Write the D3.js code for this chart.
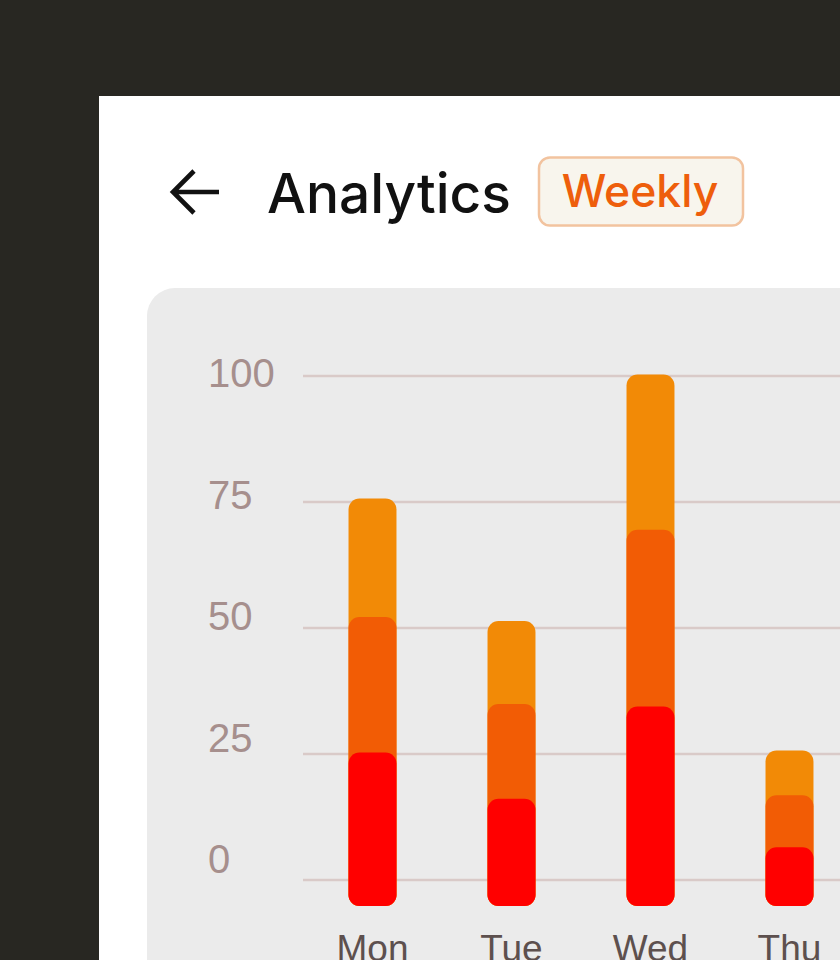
<!DOCTYPE html>
<html>
<head>
<meta charset="utf-8">
<script src="https://cdn.jsdelivr.net/npm/d3@7"></script>
<style>
  html, body { margin: 0; padding: 0; background: #282722; overflow: hidden; }
  svg { display: block; }
</style>
</head>
<body>
<svg id="chart" width="840" height="960"></svg>
<script>
// ---- data ----
const days = ["Mon", "Tue", "Wed", "Thu"];
const seriesNames = ["Red", "Orange-red", "Orange"];
const redValues = [25.3, 16.1, 34.4, 6.5];
const orangeRedValues = [26.9, 18.8, 35.1, 10.3];
const orangeValues = [23.5, 16.5, 30.8, 8.9];
const yTicks = [0, 25, 50, 75, 100];
const titleText = "Analytics";
const badgeText = "Weekly";

// ---- styles ----
const colors = { "Red": "#ff0000", "Orange-red": "#f25c05", "Orange": "#f28a06" };

const svg = d3.select("#chart");

// white panel
svg.append("rect").attr("x", 99).attr("y", 96).attr("width", 800).attr("height", 900).attr("fill", "#ffffff");

// back arrow
svg.append("path")
  .attr("d", "M219,192 H174 M194,171 L173,192 L194,213")
  .attr("fill", "none").attr("stroke", "#111111").attr("stroke-width", 4.6)
  .attr("stroke-linecap", "butt").attr("stroke-linejoin", "miter");

// title
svg.append("text").attr("x", 267).attr("y", 213)
  .attr("font-family", "Inter, 'Noto Sans', sans-serif").attr("font-size", 55)
  .attr("font-weight", 500).attr("fill", "#111111").text(titleText);

// badge
svg.append("rect").attr("x", 539).attr("y", 157.5).attr("width", 204).attr("height", 68)
  .attr("rx", 11).attr("fill", "#f8f5ed").attr("stroke", "#f2c39f").attr("stroke-width", 2.5);
svg.append("text").attr("x", 640).attr("y", 207)
  .attr("text-anchor", "middle")
  .attr("font-family", "Inter, 'Noto Sans', sans-serif").attr("font-size", 44.5)
  .attr("font-weight", 500).attr("fill", "#ee5e0c").text(badgeText);

// chart card
svg.append("rect").attr("x", 147).attr("y", 288).attr("width", 800).attr("height", 800)
  .attr("rx", 28).attr("fill", "#ebebeb");

// scales
const y = d3.scaleLinear().domain([0, 100]).range([880, 376]);
const yLabel = d3.scaleLinear().domain([0, 100]).range([873, 387]);
const x = d3.scaleBand().domain(days).range([303, 303 + 139 * days.length])
  .paddingInner(0.655).paddingOuter(0.3275);

// gridlines
svg.append("g").selectAll("line").data(yTicks).join("line")
  .attr("x1", 303).attr("x2", 860)
  .attr("y1", d => y(d)).attr("y2", d => y(d))
  .attr("stroke", "#d9cac8").attr("stroke-width", 2.5);

// y labels
svg.append("g").selectAll("text").data(yTicks).join("text")
  .attr("x", 208).attr("y", d => yLabel(d))
  .attr("font-family", "'Liberation Sans', Arial, sans-serif").attr("font-size", 40)
  .attr("fill", "#a68f8d").text(d => d);

// stacked bars
const table = days.map((d, i) => ({
  day: d,
  "Red": redValues[i],
  "Orange-red": orangeRedValues[i],
  "Orange": orangeValues[i]
}));
const stack = d3.stack().keys(seriesNames)(table);
const overhang = 26;
const radius = 11;

// draw top-most series first so lower segments overlap with their rounded tops
const layers = stack.slice().reverse();
svg.append("g").selectAll("g").data(layers).join("g")
  .attr("fill", d => colors[d.key])
  .selectAll("rect").data(d => d).join("rect")
  .attr("x", d => x(d.data.day))
  .attr("width", x.bandwidth())
  .attr("y", d => y(d[1]))
  .attr("height", d => y(0) + overhang - y(d[1]))
  .attr("rx", radius);

// x labels (cut by the bottom edge, as in the reference)
svg.append("g").selectAll("text").data(days).join("text")
  .attr("x", d => x(d) + x.bandwidth() / 2).attr("y", 961)
  .attr("text-anchor", "middle")
  .attr("font-family", "'Liberation Sans', Arial, sans-serif").attr("font-size", 37)
  .attr("fill", "#5d504e").text(d => d);
</script>
</body>
</html>
